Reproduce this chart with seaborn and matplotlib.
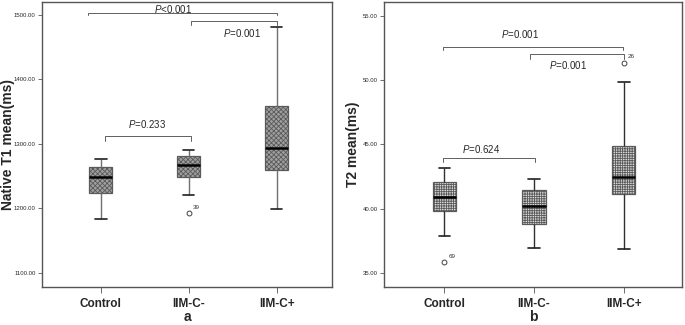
import numpy as np
import pandas as pd
import matplotlib
matplotlib.use("Agg")
import matplotlib.pyplot as plt
from matplotlib.ticker import FormatStrFormatter
import seaborn as sns

# ---- data (five-number summaries per group) ----
groups = ["Control", "IIM-C-", "IIM-C+"]

t1_low = [1184, 1221, 1199]
t1_q1 = [1223, 1248, 1259]
t1_med = [1248, 1267, 1293]
t1_q3 = [1264, 1281, 1358]
t1_high = [1277, 1291, 1481]
t1_outliers = [[], [1192], []]
t1_outlier_ids = [[], ["39"], []]
t1_ticks = [1100, 1200, 1300, 1400, 1500]

t2_low = [37.9, 37.0, 36.9]
t2_q1 = [39.85, 38.85, 41.15]
t2_med = [40.9, 40.25, 42.5]
t2_q3 = [42.05, 41.45, 44.9]
t2_high = [43.2, 42.3, 49.85]
t2_outliers = [[35.85], [], [51.35]]
t2_outlier_ids = [["69"], [], ["26"]]
t2_ticks = [35, 40, 45, 50, 55]

# significance brackets: (x_start, x_end, y, drop), labels: (x, y, text)
t1_brackets = [(-0.15, 2.0, 1503, 4), (1.03, 2.0, 1490, 5), (0.05, 1.03, 1312, 7)]
t1_pvals = [(0.82, 1509, "<0.001"), (1.61, 1472, "=0.001"), (0.52, 1330, "=0.233")]
t2_brackets = [(-0.02, 1.99, 52.6, 0.26), (0.96, 2.0, 52.0, 0.35), (-0.02, 1.01, 43.93, 0.3)]
t2_pvals = [(0.84, 53.56, "=0.001"), (1.375, 51.16, "=0.001"), (0.41, 44.61, "=0.624")]


def observations(low, q1, med, q3, high, out):
    # rebuild a sample whose quartiles / whiskers match the read summary
    if not out:
        return [low, q1, med, q3, high]
    if out[0] < low:
        return [out[0], low, q1, q1, med, q3, q3, high, high]
    return [low, low, q1, med, med, q3, q3, high, out[0]]


def long_table(low, q1, med, q3, high, outs):
    rows = []
    for i, g in enumerate(groups):
        for v in observations(low[i], q1[i], med[i], q3[i], high[i], outs[i]):
            rows.append((g, v))
    return pd.DataFrame(rows, columns=["group", "value"])


sns.set_style("ticks")
plt.rcParams["font.family"] = ["Liberation Sans", "DejaVu Sans"]
plt.rcParams["mathtext.fontset"] = "custom"
plt.rcParams["mathtext.it"] = "Liberation Sans:italic"
plt.rcParams["mathtext.rm"] = "Liberation Sans"
plt.rcParams["hatch.linewidth"] = 0.6

fig = plt.figure(figsize=(6.85, 3.25), dpi=100)
ax1 = fig.add_axes([0.0613, 0.117, 0.4234, 0.877])
ax2 = fig.add_axes([0.561, 0.117, 0.4346, 0.877])

panels = [
    (ax1, long_table(t1_low, t1_q1, t1_med, t1_q3, t1_high, t1_outliers),
     t1_outliers, t1_outlier_ids, t1_ticks, (1078, 1520), "Native T1 mean(ms)", "a",
     t1_brackets, t1_pvals, "#a0a0a0", "xxxxxxx", "#707070", (-0.67, 2.63), -0.092),
    (ax2, long_table(t2_low, t2_q1, t2_med, t2_q3, t2_high, t2_outliers),
     t2_outliers, t2_outlier_ids, t2_ticks, (33.94, 56.06), "T2 mean(ms)", "b",
     t2_brackets, t2_pvals, "#dadada", "+++++++", "#303030", (-0.67, 2.65), -0.08),
]

for (ax, df, outs, ids, ticks, ylim, ylabel, sub,
     brackets, pvals, face, hatch, wcol, xlim, ylab_x) in panels:
    sns.boxplot(data=df, x="group", y="value", order=groups, ax=ax,
                width=0.26, color=face, linecolor="#5a5a5a", linewidth=0.9,
                saturation=1, fliersize=3.5,
                medianprops=dict(color="black", linewidth=1.8),
                whiskerprops=dict(color=wcol, linewidth=1.0),
                capprops=dict(color="#202020", linewidth=1.2),
                flierprops=dict(marker="o", markerfacecolor="none",
                                markeredgecolor="#404040", markeredgewidth=0.7))
    for p in ax.patches:
        p.set_hatch(hatch)
        p.set_edgecolor("#5a5a5a")

    # outlier case numbers
    for i, (vals, labs) in enumerate(zip(outs, ids)):
        for v, lab in zip(vals, labs):
            ax.annotate(lab, (i, v), xytext=(3, 3), textcoords="offset points",
                        fontsize=4.5, color="#333333")

    # significance brackets
    for x0, x1, y, d in brackets:
        ax.plot([x0, x0, x1, x1], [y - d, y, y, y - d], color="#606060", lw=0.7)
    for x, y, txt in pvals:
        ax.text(x, y, "$\\it{P}$" + txt, ha="center", va="center", fontsize=7)

    ax.set_xlim(*xlim)
    ax.set_ylim(*ylim)
    ax.set_yticks(ticks)
    ax.yaxis.set_major_formatter(FormatStrFormatter("%.2f"))
    ax.tick_params(axis="y", labelsize=4.3, length=3, width=0.6, color="#555555", pad=1.5)
    ax.tick_params(axis="x", labelsize=8.5, length=4, width=0.6, color="#555555", pad=4)
    for lab in ax.get_xticklabels():
        lab.set_fontweight("bold")
    ax.set_ylabel(ylabel, fontsize=10, fontweight="bold")
    ax.yaxis.set_label_coords(ylab_x, 0.5)
    ax.set_xlabel(sub, fontsize=10, fontweight="bold", labelpad=0)
    for s in ax.spines.values():
        s.set_visible(True)
        s.set_color("#555555")
        s.set_linewidth(1.0)

fig.savefig("out.png", dpi=100)
